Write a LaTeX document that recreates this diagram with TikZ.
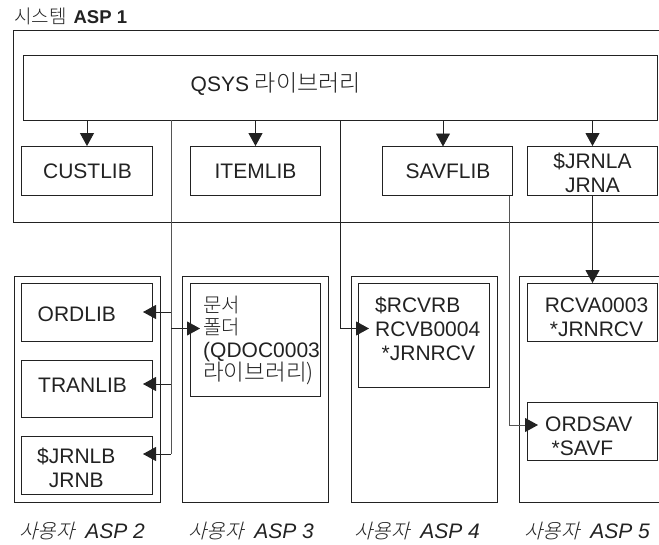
\documentclass[tikz,border=0pt]{standalone}
\usepackage{fontspec}
\setmainfont{Liberation Sans}
\newfontfamily\kr{Noto Sans CJK KR Light}
\newfontfamily\krs[FakeSlant=0.25]{Noto Sans CJK KR Light}
\usetikzlibrary{arrows.meta}
\definecolor{ink}{HTML}{222222}
\definecolor{soft}{HTML}{555555}
\tikzset{
  box/.style={draw=ink,line width=.9pt,inner sep=0pt,minimum width=130.5pt},
  panel/.style={draw=ink,line width=.9pt},
  txt/.style={inner sep=0pt,text=ink,font=\fontsize{21}{24}\selectfont,align=left},
  captxt/.style={inner sep=0pt,text=ink,anchor=base west,font=\fontsize{21}{24}\selectfont},
  link/.style={draw=ink,line width=.9pt},
  linkg/.style={draw=soft,line width=1pt},
  tip/.style={-{Triangle[length=13pt,width=14pt,color=ink,fill=ink]}}
}
\newcommand{\krtext}[1]{{\kr\fontsize{20}{22.5}\selectfont #1}}
\newcommand{\krwide}[1]{{\kr\fontsize{22.5}{22.5}\selectfont #1}}
\newcommand{\aspcap}[1]{{\krs\fontsize{20}{24}\selectfont 사용자}\hspace*{11pt}\textit{ASP #1}}
\begin{document}
\begin{tikzpicture}[x=1pt,y=-1pt]
\useasboundingbox (0,0) rectangle (659,544);
% panels
\draw[panel] (659,30) -- (13.5,30) -- (13.5,222) -- (659,222);
\node[panel,inner sep=0pt,minimum width=146pt,minimum height=226pt] (asp2) at (87,389) {};
\node[panel,inner sep=0pt,minimum width=146pt,minimum height=226pt] (asp3) at (255.5,389) {};
\node[panel,inner sep=0pt,minimum width=146pt,minimum height=226pt] (asp4) at (424,389) {};
\draw[panel] (659,276) -- (519,276) -- (519,502) -- (659,502);
% boxes
\node[box,minimum width=634pt,minimum height=65pt] (qsys) at (340,87.5) {};
\node[box,minimum height=49pt] (custlib) at (87,171) {};
\node[box,minimum height=49pt] (itemlib) at (255.5,171) {};
\node[box,minimum height=49pt] (savflib) at (447.5,171) {};
\node[box,minimum height=49pt] (jrnla) at (592.5,171) {};
\node[box,minimum height=57.5pt] (ordlib) at (87,312.25) {};
\node[box,minimum height=57.5pt] (tranlib) at (87,388.75) {};
\node[box,minimum height=57.5pt] (jrnlb) at (87,465.5) {};
\node[box,minimum height=112.5pt] (qdoc) at (255.5,339.75) {};
\node[box,minimum height=104pt] (rcvb) at (424,335.5) {};
\node[box,minimum height=57.5pt] (rcva) at (592.5,312.25) {};
\node[box,minimum height=57.5pt] (ordsav) at (592.5,431.25) {};
% texts
\node[anchor=base west,inner sep=0pt,text=ink] (title) at (14,23) {\fontsize{19}{24}\selectfont\kr 시스템\hspace*{7pt}\fontsize{18.5}{24}\selectfont\rmfamily\bfseries ASP 1};
\node[captxt] (qsyst) at (190.5,91) {QSYS {\kr\fontsize{23}{24}\selectfont 라이브러리}};
\node[txt] (custlibt) at (87.5,171.5) {CUSTLIB};
\node[txt] (itemlibt) at (255.5,171.5) {ITEMLIB};
\node[txt] (savflibt) at (448,171.5) {SAVFLIB};
\node[txt,align=center] (jrnlat) at (592.5,172.5) {\$JRNLA\\JRNA};
\node[txt,anchor=west] (ordlibt) at (37.5,314) {ORDLIB};
\node[txt,anchor=west] (tranlibt) at (38,385) {TRANLIB};
\node[txt,align=center,anchor=west] (jrnlbt) at (37,468) {\$JRNLB\\JRNB};
\node[txt,anchor=west,font=\fontsize{21}{22.5}\selectfont] (qdoct) at (203,340.5) {\krtext{문서}\\\krtext{폴더}\\(QDOC0003\\\krwide{라이브러리)}};
\node[txt,anchor=west] (rcvbt) at (375,329) {\$RCVRB\\RCVB0004\\\hspace*{6.5pt}*JRNRCV};
\node[txt,align=center] (rcvat) at (596.5,317) {RCVA0003\\*JRNRCV};
\node[txt,anchor=west] (ordsavt) at (545,436) {ORDSAV\\\hspace*{6.5pt}*SAVF};
\node[captxt] (c2) at (19,538) {\aspcap{2}};
\node[captxt] (c3) at (188,538) {\aspcap{3}};
\node[captxt] (c4) at (354,538) {\aspcap{4}};
\node[captxt] (c5) at (524,538) {\aspcap{5}};
% connector ends
\coordinate (eo) at (143,312);
\coordinate (et) at (143,384);
\coordinate (ej) at (143,454);
\coordinate (ed) at (200,328.5);
\coordinate (er) at (369,328.5);
\coordinate (es) at (538,425);
\coordinate (ba) at (171,120);
\coordinate (bb) at (340.5,120);
\coordinate (bs) at (509,195.5);
\coordinate (sv) at (443,146.5);
% connectors
\draw[link,tip] (qsys.south -| custlib) -- (custlib.north);
\draw[link,tip] (qsys.south -| itemlib) -- (itemlib.north);
\draw[link,tip] (qsys.south -| sv) -- (sv);
\draw[link,tip] (qsys.south -| jrnla) -- (jrnla.north);
\draw[linkg] (ba) -- (ba |- ej);
\draw[link,tip] (ba |- eo) -- (eo);
\draw[link,tip] (ba |- et) -- (et);
\draw[link,tip] (ba |- ej) -- (ej);
\draw[link,tip] (ba |- ed) -- (ed);
\draw[link,tip] (bb) -- (bb |- er) -- (er);
\draw[linkg,tip] (bs) -- (bs |- es) -- (es);
\draw[link,tip] (jrnla.south) -- (jrnla.south |- rcva.north);
\end{tikzpicture}
\end{document}
